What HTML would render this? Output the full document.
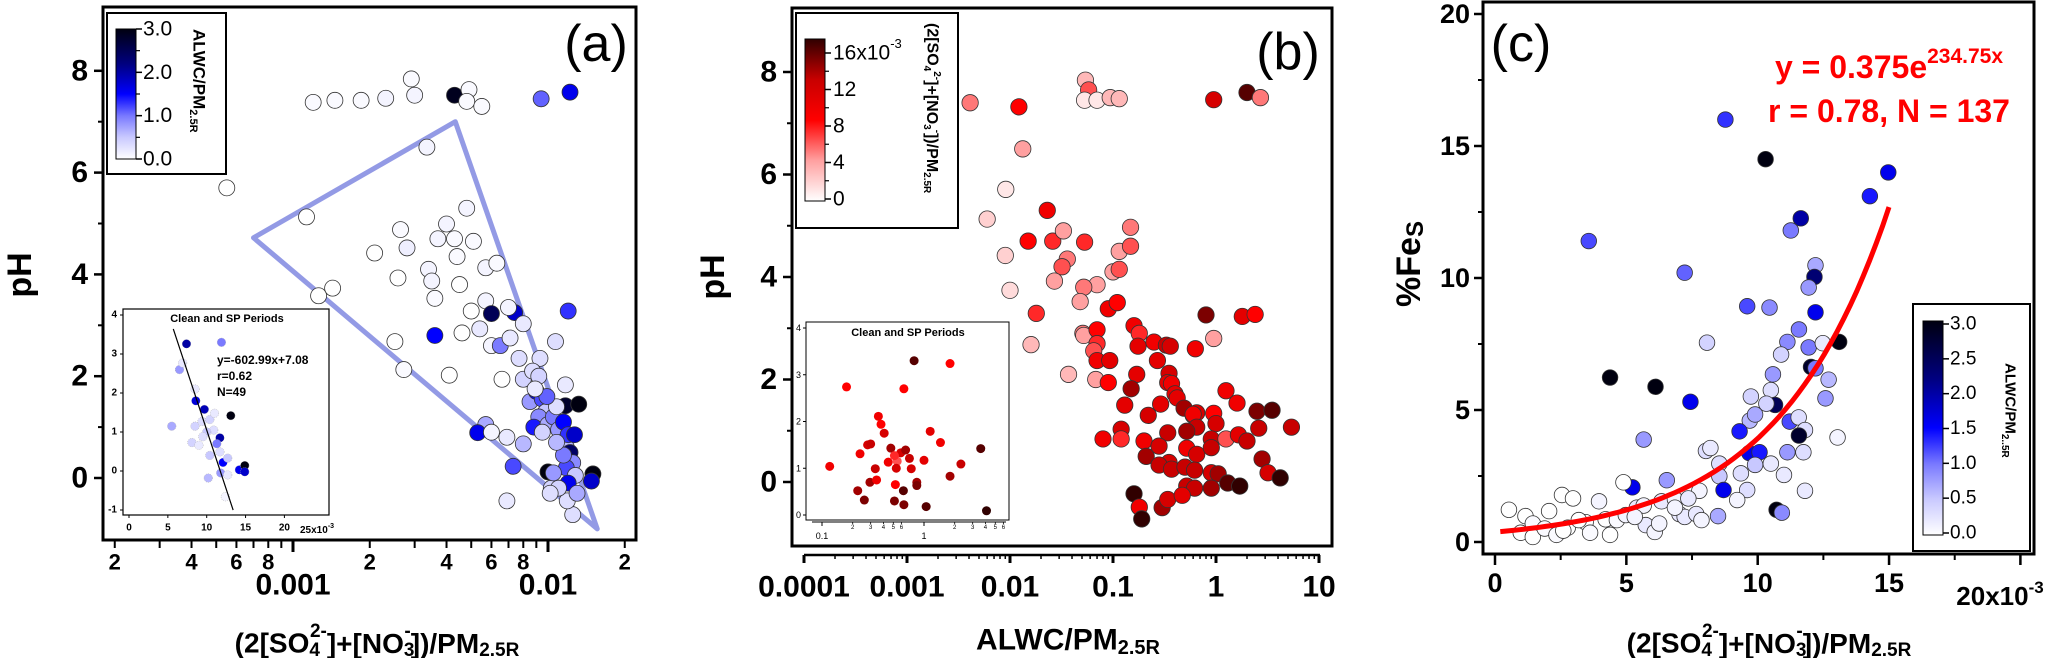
<!DOCTYPE html>
<html><head><meta charset="utf-8"><style>
html,body{margin:0;padding:0;background:#fff;}
svg{display:block;font-family:"Liberation Sans",Arial,sans-serif;}
</style></head><body>
<svg id="fig" width="2067" height="658" viewBox="0 0 2067 658" xmlns="http://www.w3.org/2000/svg">
<defs>
<linearGradient id="gBlue" x1="0" y1="1" x2="0" y2="0">
<stop offset="0" stop-color="#ffffff"/><stop offset="0.17" stop-color="#c8c8ff"/><stop offset="0.33" stop-color="#7a7aff"/><stop offset="0.5" stop-color="#0000ff"/><stop offset="0.73" stop-color="#000080"/><stop offset="1" stop-color="#000010"/>
</linearGradient>
<linearGradient id="gRed" x1="0" y1="1" x2="0" y2="0">
<stop offset="0" stop-color="#ffffff"/><stop offset="0.25" stop-color="#ffa0a0"/><stop offset="0.5" stop-color="#ff0000"/><stop offset="0.75" stop-color="#c80000"/><stop offset="1" stop-color="#300000"/>
</linearGradient>
</defs>
</svg>
<script>
// ---------- Panel (a) data: x ratio, pH, ALWC/PM ----------
const aX=[0.0012,0.00146,0.00185,0.00231,0.00291,0.003,0.0043,0.0049,0.0048,0.0055,0.0094,0.0122,
0.00055,0.00335,0.00113,0.00126,0.00143,0.00251,0.00272,0.00209,0.00264,0.0028,0.00258,0.0034,0.0035,0.0036,0.0037,0.004,0.0043,0.0044,0.0045,0.0048,0.0051,0.0057,0.0063,0.0057,0.005,0.0046,0.0041,0.0036,0.006,0.0074,0.007,0.0054,0.006,0.0065,0.0071,0.008,0.0077,0.0066,0.0093,0.008,0.0087,0.0107,0.012,0.0117,0.0057,0.0053,0.006,0.0069,0.008,0.0073,0.0069,0.01,0.0117,0.0132,0.015,0.0148,0.0125,0.0119,0.0103,
0.0085,0.009,0.0095,0.0098,0.0092,0.0088,0.01,0.0105,0.0108,0.011,0.0113,0.0115,0.0118,0.012,0.0122,0.0125,0.0118,0.0128,0.012,0.011,0.0105,0.0102,0.0115,0.0108,0.0095,0.013,0.0127,0.0099,0.0092,0.0089];
const aY=[7.38,7.42,7.42,7.46,7.84,7.52,7.52,7.63,7.4,7.3,7.45,7.58,
5.7,6.5,5.13,3.58,3.73,2.68,2.13,4.42,4.88,4.52,3.93,4.1,3.87,3.53,4.7,4.99,4.7,4.35,3.8,5.3,4.65,4.13,4.22,3.48,3.28,2.85,2.02,2.8,3.23,3.25,3.35,2.93,2.6,2.6,2.75,3.03,2.35,1.94,2.35,1.94,2.1,2.68,3.28,1.83,1.05,0.89,0.9,0.8,0.67,0.23,-0.45,0.12,1.42,1.45,0.08,-0.06,-0.72,-0.45,-0.2,
1.5,1.7,1.55,1.3,1.2,1.0,1.05,1.2,1.4,0.95,0.7,1.1,0.6,0.85,0.5,0.3,0.2,0.05,-0.1,-0.2,0.1,-0.3,0.45,0.7,0.9,-0.3,0.85,1.6,2.0,1.75];
const aC=[0.05,0.05,0.05,0.1,0.05,0.1,2.9,0.05,0.05,0.05,1.1,1.6,
0,0.1,0,0,0,0,0.05,0,0.05,0.15,0,0.1,0.1,0.05,0.1,0.1,0.05,0.05,0,0.1,0.05,0.1,0.05,0.1,0,0,0,1.5,2.5,1.8,0.1,0.2,0.1,1.0,0.2,0.2,0.3,0,0.3,0.4,0.3,0.3,1.3,0.2,0.7,1.6,0.1,0.2,0.6,1.2,0.2,3,2.8,3,3,1.8,0.3,0.3,0.4,
0.8,1.6,1.2,0.5,0.9,1.4,0.7,1.0,0.3,0.8,1.1,1.5,0.6,1.3,2.4,0.9,1.2,0.5,1.6,0.4,0.8,0.3,1.0,0.6,0.4,0.7,1.8,1.1,0.4,0.2];
const aYTicks=[0,2,4,6,8];
const aXMajor=[0.001,0.01];
const aXMajorLabels=["0.001","0.01"];
const aXMinorLabeled=[0.0002,0.0004,0.0006,0.0008,0.002,0.004,0.006,0.008,0.02];
const aXMinorText=["2","4","6","8","2","4","6","8","2"];
const aTriX=[0.0007,0.00433,0.0156];
const aTriY=[4.72,7.0,-1.0];
const aCbTicks=[0,1,2,3];
const aCbText=["0.0","1.0","2.0","3.0"];
// inset (a)
const aiX=[7.4,11.9,6.5,6.9,8.5,8.6,9.7,13.1,5.5,8.5,9.4,10.4,11,11.7,8.1,11.3,10.9,10,10.4,12.1,12.7,11.7,11.8,12.7,10.2,12.4,14.2,14.9,14.9,9.5,9];
const aiY=[3.26,3.3,2.6,2.77,2.1,1.8,1.58,1.42,1.15,1.15,1.27,1.32,1.48,0.85,0.73,0.7,1.05,1.0,0.4,0.22,0.33,0.49,-0.05,-0.1,-0.18,-0.66,0.03,0.14,-0.02,0.88,0.66];
const aiC=[2,1,0.8,0.2,0.2,1.7,1.9,3,0.7,0.4,0.3,0.4,0.2,2,0.4,1,0.3,0.5,0.5,1.5,0.5,0.3,0.8,0.2,0.6,0.1,1.6,3,1.8,0.3,0.2];
const aiYTicks=[-1,0,1,2,3,4];
const aiXTicks=[0,5,10,15,20];
const aiSlope=-602.99, aiIntercept=7.08;
// ---------- Panel (b) data: ALWC/PM, pH, ratio(1e-3) ----------
const bX=[0.0041,0.0122,0.0133,0.0091,0.006,0.009,0.01,0.054,0.058,0.053,0.07,0.094,0.115,0.95,2.0,2.7,
0.023,0.015,0.026,0.033,0.053,0.036,0.032,0.027,0.07,0.052,0.048,0.018,0.016,0.037,0.051,0.052,0.07,0.07,0.065,0.07,0.093,0.068,0.09,0.09,0.11,0.1,0.115,0.115,0.148,0.148,0.16,0.18,0.175,0.25,0.33,0.36,0.63,0.8,0.95,1.8,2.4,
0.27,0.17,0.15,0.35,0.34,0.37,0.4,0.42,0.13,0.22,0.29,0.12,0.08,0.12,0.2,0.34,0.49,0.6,0.65,0.6,0.95,1.0,1.25,1.6,0.65,0.52,0.9,1.25,1.65,2.0,2.6,2.5,3.5,5.4,
0.21,0.28,0.35,0.52,0.65,0.9,2.8,0.28,0.37,0.5,0.62,0.9,1.05,3.2,4.2,1.3,1.7,0.52,0.62,0.9,0.16,0.18,0.19,0.3,0.34,0.47];
const bY=[7.4,7.32,6.5,5.71,5.13,4.42,3.74,7.84,7.65,7.45,7.45,7.5,7.48,7.46,7.6,7.5,
5.3,4.7,4.7,4.9,4.68,4.35,4.2,3.92,3.85,3.8,3.52,3.29,2.68,2.1,2.9,2.86,2.97,2.7,2.56,2.37,2.37,2.0,1.94,3.38,3.5,4.1,4.15,4.5,4.97,4.6,3.05,2.9,2.65,2.73,2.67,2.65,2.6,3.26,2.8,3.23,3.27,
2.37,2.1,1.82,2.12,1.94,1.92,1.72,1.64,1.5,1.3,1.52,1.03,0.84,0.84,0.8,0.96,1.44,1.3,1.35,1.32,1.34,1.14,1.78,1.54,1.07,0.99,0.84,0.84,0.92,0.8,1.05,1.38,1.4,1.07,
0.5,0.7,0.38,0.66,0.54,0.67,0.45,0.33,0.25,0.29,0.23,0.18,0.16,0.18,0.08,-0.02,-0.08,-0.08,-0.12,-0.12,-0.23,-0.49,-0.72,-0.5,-0.34,-0.26];
const bC=[5,8,4,1,2,2,1.5,3,6,1,1,3,3,11,15,5,
9,8,7,4,7,5,6,4,4,5,4,7,3,3,5,4,8,7,6,9,10,4,8,9,8,4,6,4,5,6,9,7,10,9,12,11,9,14,4,10,8,
10,10,13,11,10,9,10,10,10,11,10,11,9,7,9,12,13,12,11,9,8,11,9,9,12,13,12,6,10,12,12,14,15,12,
13,11,11,9,11,12,13,12,12,12,12,11,13,11,16,15,17,12,12,13,17,9,16,13,11,10];
const bYTicks=[0,2,4,6,8];
const bXMajor=[0.0001,0.001,0.01,0.1,1,10];
const bXLabels=["0.0001","0.001","0.01","0.1","1","10"];
const bCbTicks=[0,4,8,12,16];
const bCbText=["0","4","8","12","16x10"];
// inset (b)
const biX=[0.119,0.174,0.236,0.28,0.3,0.224,0.26,0.295,0.333,0.343,0.357,0.379,0.407,0.446,0.473,0.524,0.513,0.546,0.535,0.592,0.628,0.635,0.635,0.66,0.72,0.75,0.8,0.85,0.85,1.0,1.05,1.15,1.45,1.8,1.8,2.3,3.6,4.1,0.513];
const biY=[1.04,2.74,1.31,1.5,1.52,0.52,0.32,0.7,0.99,0.75,2.11,1.94,1.75,1.13,1.43,0.65,0.3,1.15,1.0,1.33,0.52,0.22,2.7,1.39,1.21,0.99,3.3,0.7,0.63,1.17,0.18,1.79,1.55,3.24,0.83,1.09,1.42,0.09,1.27];
const biC=[9,8,9,11,12,13,14,13,12,9,9,8,11,9,13,8,14,6,11,11,15,14,8,13,12,11,15,13,14,10,15,10,9,8,13,12,15,17,7];
const biYTicks=[0,1,2,3,4];
const biXMinor=[0.2,0.3,0.4,0.5,0.6,2,3,4,5,6];
const biXMinorText=["2","3","4","5","6","2","3","4","5","6"];
// ---------- Panel (c) data: ratio (1e-3), %FeS, ALWC/PM ----------
const cX=[8.77,10.3,14.97,14.27,11.64,11.26,3.57,7.22,12.2,12.16,11.94,9.6,10.45,12.2,11.57,11.13,11.94,12.48,8.07,13.1,10.89,12.03,12.2,10.58,12.7,4.38,6.11,7.44,12.58,9.74,10.5,10.66,10.33,9.7,9.9,11.22,11.56,11.8,11.57,9.31,5.66,13.04,9.68,10.07,9.9,10.5,11.13,11.74,8.03,8.2,8.54,8.54,9.36,11.0,6.54,5.23,8.7,9.6,11.8,10.72,10.92,8.49,7.78,9.22,4.89,
0.53,1.16,1.44,0.98,1.44,2.06,1.89,2.55,2.97,2.34,2.77,3.45,3.62,3.96,4.21,4.38,4.64,4.98,5.4,5.66,5.74,6.08,6.25,6.34,6.85,7.02,7.22,7.66,7.86,7.36,6.85,5.32,3.19,2.6];
const cY=[16.0,14.5,14.0,13.1,12.26,11.8,11.4,10.2,10.48,10.04,9.64,8.93,8.88,8.7,8.05,7.58,7.37,7.53,7.55,7.58,7.1,6.63,6.58,6.35,6.15,6.23,5.88,5.31,5.44,5.51,5.75,5.19,5.24,4.6,4.83,4.56,4.72,4.24,4.03,4.19,3.88,3.96,3.37,3.4,2.92,2.97,3.4,3.4,3.45,3.56,2.97,2.49,2.6,2.54,2.34,2.07,1.97,1.97,1.94,1.22,1.11,0.98,1.94,1.59,2.26,
1.22,0.98,0.7,0.35,0.19,1.17,0.51,1.78,1.65,0.27,0.54,0.75,0.35,1.54,0.86,0.27,0.83,1.02,1.3,1.38,0.64,0.38,0.7,1.54,1.62,1.06,0.95,1.06,0.83,1.65,1.3,0.95,0.83,0.43];
const cC=[1.3,3,1.6,1.4,2,1.0,1.2,1.1,0.7,2.3,0.8,1.2,0.9,1.6,1.0,0.9,1.0,0.2,0.4,3,0.4,2.8,1.0,0.8,0.6,3,3,1.6,0.8,0.4,0.3,2.5,0.4,0.6,0.7,1.2,0.3,0.3,2.8,1.4,0.8,0.1,1.6,1.4,0.5,0.2,0.8,0.3,0.3,0.2,0.3,0.5,0.3,0.2,0.8,1.6,1.6,0.3,0.2,3,0.9,0.7,0.1,0.1,0.0,
0,0,0.05,0,0,0,0.05,0,0,0.05,0,0,0.05,0.1,0,0,0.05,0.1,0.2,0.1,0.2,0.1,0.1,0.2,0.1,0.2,0.2,0.2,0.1,0.2,0.1,0.1,0,0];
const cYTicks=[0,5,10,15,20];
const cXTicks=[0,5,10,15,20];
const cXText=["0","5","10","15","20x10"];
const cFitA=0.375, cFitB=0.23475;
const cCbTicks=[0,0.5,1,1.5,2,2.5,3];
const cCbText=["0.0","0.5","1.0","1.5","2.0","2.5","3.0"];

// ---------- scales ----------
const xA=v=>293+(Math.log10(v)+3)*255, yA=p=>478-50.9*p;
const xAi=v=>129+v*7.77, yAi=p=>471-39*p;
const xB=v=>804+(Math.log10(v)+4)*103, yB=p=>482-51.25*p;
const xBi=v=>924+Math.log10(v)*102, yBi=p=>515-46.75*p;
const xC=v=>1495+v*26.27, yC=p=>542-26.4*p;
const cbA=v=>159-v*(130/3), cbB=v=>199-v*(146/16), cbC=v=>533-v*(209/3);

const NS="http://www.w3.org/2000/svg";
const svg=document.getElementById('fig');
function mk(tag,attrs,parent){const e=document.createElementNS(NS,tag);for(const k in attrs)e.setAttribute(k,attrs[k]);(parent||svg).appendChild(e);return e;}
function grp(name){const g=mk('g',{});


return g;}
function interp(stops,v){let i=0;while(i<stops.length-2&&v>stops[i+1][0])i++;const a=stops[i],b=stops[i+1];let t=(v-a[0])/(b[0]-a[0]);t=Math.max(0,Math.min(1,t));const c=[0,1,2].map(k=>Math.round(a[1][k]+(b[1][k]-a[1][k])*t));return `rgb(${c[0]},${c[1]},${c[2]})`;}
const BLUE=[[0,[255,255,255]],[0.5,[200,200,255]],[1,[122,122,255]],[1.5,[0,0,255]],[2.2,[0,0,128]],[3,[0,0,16]]];
const RED=[[0,[255,255,255]],[4,[255,160,160]],[8,[255,0,0]],[12,[200,0,0]],[16,[48,0,0]]];
function txt(x,y,s,size,g,opts){const o=Object.assign({x:x,y:y,'font-size':size,'font-weight':'bold','text-anchor':'middle','dominant-baseline':'central',fill:'#000'},opts||{});const t=mk('text',o,g);t.textContent=s;return t;}
function line(x1,y1,x2,y2,w,g,col){return mk('line',{x1:x1,y1:y1,x2:x2,y2:y2,stroke:col||'#000','stroke-width':w},g);}

// ======== PANEL A ========
const gA=grp('panel-a');
mk('rect',{x:103,y:7,width:533,height:533,fill:'none',stroke:'#000','stroke-width':3},gA);
const tri=mk('polygon',{points:aTriX.map((v,i)=>xA(v)+','+yA(aTriY[i])).join(' '),fill:'none',stroke:'#8088e0','stroke-width':5,'stroke-opacity':0.85,'stroke-linejoin':'round'},gA);


aX.forEach((v,i)=>{const c=mk('circle',{cx:xA(v),cy:yA(aY[i]),r:8,fill:interp(BLUE,aC[i]),stroke:'#333','stroke-width':0.8},gA);

});
aYTicks.forEach(p=>{line(94,yA(p),103,yA(p),2.5,gA);txt(88,yA(p),String(p),30,gA,{'text-anchor':'end'});});
[1,3,5,7].forEach(p=>line(98,yA(p),103,yA(p),2,gA));
for(let d=-4;d<=-2;d++){for(let m=1;m<10;m++){const v=m*Math.pow(10,d);const x=xA(v);if(x<105||x>634)continue;line(x,541,x,m===1?552:548,m===1?3:2,gA);}}
aXMajor.forEach((v,i)=>txt(xA(v),585,aXMajorLabels[i],30,gA));
aXMinorLabeled.forEach((v,i)=>txt(xA(v),562,aXMinorText[i],22,gA));
const aTitle=txt(20,275,'pH',34,gA,{transform:'rotate(-90 20 275)'});

const axT=mk('text',{x:377,y:643,'font-size':28,'font-weight':'bold','text-anchor':'middle','dominant-baseline':'central'},gA);
axT.innerHTML='(2[SO<tspan font-size="19" dy="7">4</tspan><tspan font-size="19" dx="-10" dy="-19">2-</tspan><tspan dy="12">]+[NO</tspan><tspan font-size="19" dy="7">3</tspan><tspan font-size="19" dx="-10" dy="-19">-</tspan><tspan dy="12">])/PM</tspan><tspan font-size="19" dy="7">2.5R</tspan>';

txt(596,44,'(a)',52,gA,{'font-weight':'normal'});
const cbAg=grp('colorbar-a');gA.appendChild(cbAg);
mk('rect',{x:107,y:13,width:119,height:161,fill:'#fff',stroke:'#000','stroke-width':2},cbAg);
mk('rect',{x:116,y:29,width:20,height:130,fill:'url(#gBlue)',stroke:'#000','stroke-width':1},cbAg);
aCbTicks.forEach((v,i)=>{line(136,cbA(v),142,cbA(v),1.5,cbAg);txt(143,cbA(v),aCbText[i],21,cbAg,{'font-weight':'normal','text-anchor':'start'});});
[0.5,1.5,2.5].forEach(v=>line(136,cbA(v),140,cbA(v),1.2,cbAg));
const cbAt=mk('text',{x:199,y:29,'font-size':17,'font-weight':'bold','dominant-baseline':'central',transform:'rotate(90 199 29)'},cbAg);
cbAt.innerHTML='ALWC/PM<tspan font-size="11" dy="6">2.5R</tspan>';
const gAi=grp('inset-a');gA.appendChild(gAi);
mk('rect',{x:123,y:309,width:206,height:206,fill:'#fff',stroke:'#000','stroke-width':1.2},gAi);
txt(227,319,'Clean and SP Periods',11,gAi);
aiYTicks.forEach(p=>{line(120,yAi(p),123,yAi(p),1,gAi);txt(117,yAi(p),String(p),10,gAi,{'text-anchor':'end'});});
aiXTicks.forEach(v=>{line(xAi(v),515,xAi(v),518,1,gAi);txt(xAi(v),528,String(v),10,gAi);});
const ai25=mk('text',{x:300,y:533,'font-size':10,'font-weight':'bold','text-anchor':'start'},gAi);
ai25.innerHTML='25x10<tspan font-size="7" dy="-5">-3</tspan>';
aiX.forEach((v,i)=>{const c=mk('circle',{cx:xAi(v),cy:yAi(aiY[i]),r:4.3,fill:interp(BLUE,aiC[i]),stroke:'#aaa','stroke-width':0.5,'stroke-dasharray':'1 1'},gAi);

});
{const xs=[5.7,13.4];const l=line(xAi(xs[0]),yAi(aiSlope*xs[0]/1000+aiIntercept),xAi(xs[1]),yAi(aiSlope*xs[1]/1000+aiIntercept),1.2,gAi);

}
txt(217,360,'y=-602.99x+7.08',12,gAi,{'text-anchor':'start'});
txt(217,376,'r=0.62',12,gAi,{'text-anchor':'start'});
txt(217,392,'N=49',12,gAi,{'text-anchor':'start'});

// ======== PANEL B ========
const gB=grp('panel-b');
mk('rect',{x:792,y:8,width:540,height:538,fill:'none',stroke:'#000','stroke-width':3},gB);
bX.forEach((v,i)=>{const c=mk('circle',{cx:xB(v),cy:yB(bY[i]),r:8.2,fill:interp(RED,bC[i]),stroke:'#333','stroke-width':0.8},gB);

});
bYTicks.forEach(p=>{line(783,yB(p),792,yB(p),2.5,gB);txt(777,yB(p),String(p),30,gB,{'text-anchor':'end'});});
[1,3,5,7].forEach(p=>line(787,yB(p),792,yB(p),2,gB));
line(804,555,1320,555,2.5,gB);
for(let d=-4;d<=1;d++){for(let m=1;m<10;m++){const v=m*Math.pow(10,d);const x=xB(v);if(x>1322)continue;line(x,555,x,m===1?563:559,m===1?3:1.5,gB);}}
bXMajor.forEach((v,i)=>txt(xB(v),587,bXLabels[i],30,gB));
txt(713,277,'pH',34,gB,{transform:'rotate(-90 713 277)'});
const bxT=mk('text',{x:1068,y:640,'font-size':30,'font-weight':'bold','text-anchor':'middle','dominant-baseline':'central'},gB);
bxT.innerHTML='ALWC/PM<tspan font-size="20" dy="8">2.5R</tspan>';

txt(1288,52,'(b)',52,gB,{'font-weight':'normal'});
const cbBg=grp('colorbar-b');gB.appendChild(cbBg);
mk('rect',{x:796,y:13,width:162,height:215,fill:'#fff',stroke:'#000','stroke-width':2},cbBg);
mk('rect',{x:805,y:39,width:20,height:162,fill:'url(#gRed)',stroke:'#000','stroke-width':1},cbBg);
bCbTicks.forEach((v,i)=>{line(825,cbB(v),831,cbB(v),1.5,cbBg);const t=txt(833,cbB(v),bCbText[i],21,cbBg,{'font-weight':'normal','text-anchor':'start'});if(i===4){const s=mk('tspan',{'font-size':13,dy:-10},t);s.textContent='-3';}});
[2,6,10,14].forEach(v=>line(825,cbB(v),829,cbB(v),1.2,cbBg));
const cbBt=mk('text',{x:932,y:23,'font-size':16,'font-weight':'bold','dominant-baseline':'central',transform:'rotate(90 932 23)'},cbBg);
cbBt.innerHTML='(2[SO<tspan font-size="10" dy="5">4</tspan><tspan font-size="10" dy="-10">2-</tspan><tspan dy="5">]+[NO</tspan><tspan font-size="10" dy="5">3</tspan><tspan font-size="10" dy="-10">-</tspan><tspan dy="5">])/PM</tspan><tspan font-size="10" dy="5">2.5R</tspan>';
const gBi=grp('inset-b');gB.appendChild(gBi);
mk('rect',{x:806,y:322,width:203,height:198,fill:'#fff',stroke:'#000','stroke-width':1},gBi);
txt(908,333,'Clean and SP Periods',11,gBi);
biYTicks.forEach(p=>{line(803,yBi(p),806,yBi(p),1,gBi);txt(801,yBi(p),String(p),9,gBi,{'text-anchor':'end','font-weight':'normal'});});
line(812,522,1006,522,1,gBi);
[0.1,1].forEach(v=>{line(xBi(v),522,xBi(v),526,1,gBi);txt(xBi(v),536,String(v),9,gBi,{'font-weight':'normal'});});
biXMinor.forEach((v,i)=>{line(xBi(v),522,xBi(v),524,0.8,gBi);txt(xBi(v),528,biXMinorText[i],6,gBi,{'font-weight':'normal'});});
biX.forEach((v,i)=>{const c=mk('circle',{cx:xBi(v),cy:yBi(biY[i]),r:4.5,fill:interp(RED,biC[i]),stroke:'none'},gBi);

});

// ======== PANEL C ========
const gC=grp('panel-c');
mk('rect',{x:1483,y:2,width:551,height:552,fill:'none',stroke:'#000','stroke-width':3},gC);
cX.forEach((v,i)=>{const c=mk('circle',{cx:xC(v),cy:yC(cY[i]),r:7.8,fill:interp(BLUE,cC[i]),stroke:'#333','stroke-width':0.8},gC);

});
{let d='';for(let k=0;k<=60;k++){const x=0.2+k*(14.8/60);d+=(k?'L':'M')+xC(x).toFixed(1)+','+yC(cFitA*Math.exp(cFitB*x)).toFixed(1);}
const p=mk('path',{d:d,fill:'none',stroke:'#ff0000','stroke-width':5},gC);

}
cYTicks.forEach(p=>{line(1474,yC(p),1483,yC(p),2.5,gC);txt(1470,yC(p),String(p),27,gC,{'text-anchor':'end'});});
[2.5,7.5,12.5,17.5].forEach(p=>line(1478,yC(p),1483,yC(p),2,gC));
cXTicks.forEach((v,i)=>{line(xC(v),555,xC(v),565,2.5,gC);if(i<4)txt(xC(v),583,cXText[i],27,gC);});
[2.5,7.5,12.5,17.5].forEach(v=>line(xC(v),555,xC(v),560,2,gC));
const c20=mk('text',{x:2000,y:605,'font-size':26,'font-weight':'bold','text-anchor':'middle'},gC);
c20.innerHTML='20x10<tspan font-size="17" dy="-12">-3</tspan>';
const cyT=mk('text',{x:1409,y:264,'font-size':34,'font-weight':'bold','text-anchor':'middle','dominant-baseline':'central',transform:'rotate(-90 1409 264)'},gC);
cyT.innerHTML='%Fe<tspan font-size="24" dy="6">S</tspan>';

const cxT=mk('text',{x:1769,y:643,'font-size':28,'font-weight':'bold','text-anchor':'middle','dominant-baseline':'central'},gC);
cxT.innerHTML='(2[SO<tspan font-size="19" dy="7">4</tspan><tspan font-size="19" dx="-10" dy="-19">2-</tspan><tspan dy="12">]+[NO</tspan><tspan font-size="19" dy="7">3</tspan><tspan font-size="19" dx="-10" dy="-19">-</tspan><tspan dy="12">])/PM</tspan><tspan font-size="19" dy="7">2.5R</tspan>';

txt(1521,44,'(c)',52,gC,{'font-weight':'normal'});
const eq=mk('text',{x:1889,y:67,'font-size':32,'font-weight':'bold','text-anchor':'middle','dominant-baseline':'central',fill:'#ff0000'},gC);
eq.innerHTML='y = 0.375e<tspan font-size="21" dy="-11">234.75x</tspan>';

const eq2=txt(1889,111,'r = 0.78, N = 137',32,gC,{fill:'#ff0000'});

const cbCg=grp('colorbar-c');gC.appendChild(cbCg);
mk('rect',{x:1913,y:304,width:117,height:247,fill:'#fff',stroke:'#000','stroke-width':2},cbCg);
mk('rect',{x:1923,y:321,width:20,height:214,fill:'url(#gBlue)',stroke:'#000','stroke-width':1},cbCg);
cCbTicks.forEach((v,i)=>{line(1943,cbC(v),1949,cbC(v),1.5,cbCg);txt(1950,cbC(v),cCbText[i],19,cbCg,{'font-weight':'normal','text-anchor':'start'});});
const cbCt=mk('text',{x:2010,y:363,'font-size':15,'font-weight':'bold','dominant-baseline':'central',transform:'rotate(90 2010 363)'},cbCg);
cbCt.innerHTML='ALWC/PM<tspan font-size="10" dy="5">2..5R</tspan>';
</script>
</body></html>
